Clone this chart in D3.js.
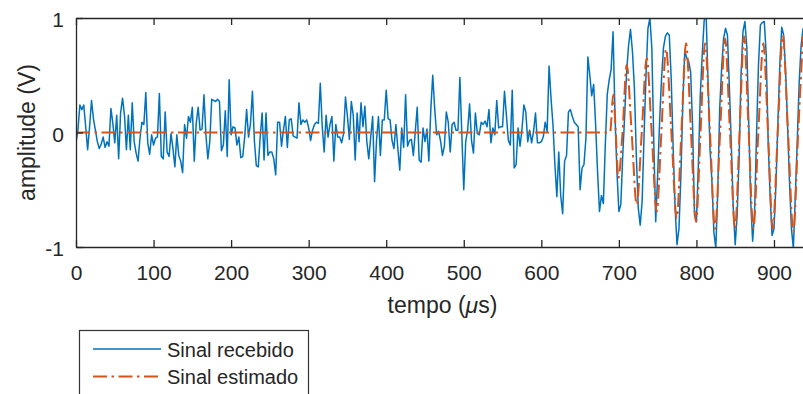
<!DOCTYPE html>
<html>
<head>
<meta charset="utf-8" />
<title>Sinal recebido x estimado</title>
<script src="https://d3js.org/d3.v7.min.js"></script>
<style>
  body { margin: 0; background: #fff; }
  svg text { font-family: "Liberation Sans", Arial, Helvetica, sans-serif; fill: #262626; }
</style>
</head>
<body>
<svg width="803" height="394"></svg>
<script>
// tick labels
var xTicks = [0, 100, 200, 300, 400, 500, 600, 700, 800, 900];
var yTicks = [-1, 0, 1];
var seriesNames = ["Sinal recebido", "Sinal estimado"];

var dtRecebido = 2.5;
var vRecebido = [
  -0.09, 0.02, 0.24, 0.20, 0.24, 0.05, -0.15, 0.05, 0.28, 0.12,
  0.02, -0.08, -0.14, -0.10, -0.04, -0.13, -0.08, -0.12, 0.21, 0.08,
  -0.09, 0.15, -0.23, 0.17, 0.30, 0.15, -0.15, 0.15, -0.15, 0.26,
  -0.08, -0.18, -0.25, -0.05, 0.09, 0.07, 0.35, -0.09, -0.19, -0.02,
  -0.11, -0.05, -0.04, 0.34, -0.21, -0.23, 0.18, -0.17, -0.21, -0.01,
  -0.14, -0.30, -0.02, -0.20, -0.25, -0.35, 0.07, -0.05, 0.14, 0.09,
  0.22, -0.25, 0.08, 0.22, 0.02, 0.03, 0.33, -0.02, -0.23, -0.08,
  0.29, 0.28, 0.27, 0.29, 0.27,
  -0.16, -0.11, 0.19, -0.21, 0.46, -0.02, 0.05, 0.04, -0.11, -0.04,
  -0.22, -0.21, -0.04, 0.20, -0.04, 0.08, 0.36, -0.07, -0.29, -0.30,
  -0.04, 0.17, -0.24, 0.17, -0.20, -0.17, -0.17, -0.23, -0.37, 0.09,
  0.09, -0.12, 0.02, 0.14, -0.13, 0.11, 0.12, -0.03, -0.04, -0.05,
  0.26, 0.07, 0.11, 0.09, 0.11, 0.04, -0.07, 0.02, 0.07, 0.09,
  0.08, 0.43, 0.05, -0.17, 0.15, -0.04, 0.07, 0.14, -0.25, 0.07,
  -0.04, -0.04, -0.09, -0.01, 0.31, 0.14, -0.06, 0.27, 0.15, -0.24,
  0.17, -0.08, 0.26, 0.05, 0.23,
  -0.08, -0.23, -0.04, 0.14, -0.43, -0.07, 0.14, -0.20, 0.11, 0.11,
  0.37, 0.12, 0.11, -0.07, -0.14, 0.07, -0.14, -0.33, 0.04, -0.13,
  0.33, -0.12, -0.07, -0.06, -0.20, 0.01, 0.22, -0.24, -0.26, 0.04,
  -0.08, 0.03, -0.25, 0.20, 0.50, 0.21, -0.02, 0.01, -0.07, -0.20,
  -0.12, 0.18, 0.09, -0.17, 0.07, 0.09, 0.02, 0.02, 0.48, -0.02,
  -0.50, -0.08, 0.02, 0.25, -0.07, -0.18, 0.17, -0.01, -0.02, 0.09,
  0.07, 0.10, 0.05, 0.20, -0.09, 0.04, -0.02, 0.28, 0.04, 0.05,
  0.05, 0.36, 0.15, -0.07, -0.11,
  0.37, -0.31, -0.28, 0.04, -0.12, 0.02, 0.24, 0.18, -0.08, 0.02,
  -0.09, 0.01, 0.17, -0.09, -0.09, -0.08, -0.04, 0.09, 0.01, 0.58,
  0.30, 0.07, -0.28, -0.56, -0.17, -0.55, -0.71, -0.25, -0.20, 0.18,
  0.20, 0.14, 0.09, 0.07, 0.05, -0.50, -0.31, -0.28, -0.05, 0.66,
  0.50, 0.32, 0.42, 0.07, -0.34, -0.69, -0.55, -0.62, -0.11, 0.33,
  0.46, 0.55, 0.88, 0.15, -0.34, -0.69, -0.63, -0.20, 0.15, 0.53,
  0.76, 0.90, 0.71, 0.39, -0.20, -0.66, -0.81, -0.60, -0.02, 0.50,
  0.91, 1.00, 0.74, -0.08, -0.78,
  -0.37, 0.09, 0.47, 0.74, 0.84, 0.87, 0.85, 0.47, -0.14,
  -0.66, -0.98, -0.84, -0.37, 0.27, 0.71, 0.65, 0.62, 0.53, 0.07,
  -0.72, -0.78, -0.28, 0.33, 0.68, 0.98, 1.03, 0.44, -0.14, -0.43,
  -0.87, -1.01, -0.52, 0.21, 0.56, 0.82, 0.91, 0.85, 0.39, -0.11,
  -0.66, -0.98, -0.72, -0.23, 0.50, 0.88, 0.97, 0.74, 0.07, -0.60,
  -0.95, -0.69, -0.02, 0.59, 0.94, 0.96, 0.97, 0.68, -0.08, -0.55,
  -0.90, -0.84, -0.46, 0.07, 0.59, 0.92, 0.85, 0.53, 0.07, -0.43,
  -0.84, -1.01, -0.55, -0.08, 0.44, 0.76, 0.91
];

// orange trace: peaks, troughs and zero crossings
var tEstimado = [0, 688.6, 692.8, 696, 699.3, 704.7, 710.1, 716.5, 723.0, 729.5,
  735.9, 742.3, 748.8, 754.8, 760.8, 767.7, 774.6, 780.6, 786.6, 793.0,
  799.5, 805.3, 811.1, 817.5, 824.0, 830.5, 836.9, 843.3, 849.8, 855.6,
  861.4, 867.4, 873.4, 879.8, 886.3, 892.3, 898.4, 904.8, 911.3, 918.1,
  925.0, 931.2, 937.5];
var vEstimado = [0, 0, 0.33, 0, -0.40, 0, 0.59, 0, -0.63, 0,
  0.65, 0, -0.69, 0, 0.73, 0, -0.75, 0, 0.78, 0,
  -0.78, 0, 0.78, 0, -0.84, 0, 0.82, 0, -0.84, 0,
  0.84, 0, -0.84, 0, 0.78, 0, -0.84, 0, 0.85, 0,
  -0.87, 0, 0.85];

const svg = d3.select('svg');
const ink = '#262626';

var margin = {top: 18, left: 76};
var plotRight = 805, plotBottom = 247;

const x = d3.scaleLinear().domain([0, 940]).range([margin.left, plotRight]);
const y = d3.scaleLinear().domain([-1, 1]).range([plotBottom, margin.top]);

svg.append('defs').append('clipPath').attr('id', 'plotclip')
  .append('rect')
  .attr('x', margin.left).attr('y', margin.top)
  .attr('width', plotRight - margin.left).attr('height', plotBottom - margin.top);

const recebido = vRecebido.map((v, i) => ({t: i * dtRecebido, v: v}));
const estimado = tEstimado.map((t, i) => ({t: t, v: vEstimado[i]}));

const plot = svg.append('g').attr('clip-path', 'url(#plotclip)');

plot.append('path')
  .datum(recebido)
  .attr('fill', 'none')
  .attr('stroke', '#0072BD')
  .attr('stroke-width', 1.5)
  .attr('stroke-linejoin', 'round')
  .attr('d', d3.line().x(d => x(d.t)).y(d => y(d.v)));

plot.append('path')
  .datum(estimado)
  .attr('fill', 'none')
  .attr('stroke', '#D95319')
  .attr('stroke-width', 2)
  .attr('stroke-dasharray', '14,4.5,2.5,4.5')
  .attr('d', d3.line().curve(d3.curveMonotoneX).x(d => x(d.t)).y(d => y(d.v)));

// axes (ticks point inward like MATLAB)
const xAxisG = svg.append('g')
  .attr('transform', 'translate(0,' + plotBottom + ')')
  .call(d3.axisBottom(x).tickValues(xTicks).tickSizeInner(-7).tickSizeOuter(0).tickPadding(18));

const topAxisG = svg.append('g')
  .attr('transform', 'translate(0,' + margin.top + ')')
  .call(d3.axisTop(x).tickValues(xTicks).tickSizeInner(-7).tickSizeOuter(0).tickFormat(''));

const yAxisG = svg.append('g')
  .attr('transform', 'translate(' + margin.left + ',0)')
  .call(d3.axisLeft(y).tickValues(yTicks).tickSizeInner(-7).tickSizeOuter(0).tickPadding(12).tickFormat(d => String(d)));

[xAxisG, topAxisG, yAxisG].forEach(g => {
  g.select('.domain').attr('stroke', ink).attr('stroke-width', 1.3);
  g.selectAll('.tick line').attr('stroke', ink).attr('stroke-width', 1.3);
  g.selectAll('text').attr('font-size', 21).attr('fill', ink)
    .style('font-family', '"Liberation Sans", Arial, sans-serif');
});
yAxisG.selectAll('.tick text').attr('dy', '0.42em');

// axis labels
const xl = svg.append('text')
  .attr('x', (margin.left + plotRight) / 2 + 2)
  .attr('y', 313)
  .attr('text-anchor', 'middle')
  .attr('font-size', 23);
xl.append('tspan').text('tempo (');
xl.append('tspan').attr('font-style', 'italic').text('\u03bc');
xl.append('tspan').text('s)');

svg.append('text')
  .attr('transform', 'translate(35,' + y(0) + ') rotate(-90)')
  .attr('text-anchor', 'middle')
  .attr('font-size', 23)
  .text('amplitude (V)');

// legend (box runs past the bottom edge in the original)
const legend = svg.append('g');
legend.append('rect')
  .attr('x', 79.5).attr('y', 330.5)
  .attr('width', 229).attr('height', 90)
  .attr('fill', '#fff')
  .attr('stroke', '#333').attr('stroke-width', 1.2);

var legendStyles = [
  {color: '#0072BD', width: 1.5, dash: null},
  {color: '#D95319', width: 2, dash: '14,4.5,2.5,4.5'}
];
seriesNames.forEach((name, i) => {
  var cy = 349 + i * 27.5;
  legend.append('line')
    .attr('x1', 93).attr('x2', 161)
    .attr('y1', cy).attr('y2', cy)
    .attr('stroke', legendStyles[i].color)
    .attr('stroke-width', legendStyles[i].width)
    .attr('stroke-dasharray', legendStyles[i].dash);
  legend.append('text')
    .attr('x', 167).attr('y', cy + 7.5)
    .attr('font-size', 20)
    .text(name);
});
</script>
</body>
</html>
